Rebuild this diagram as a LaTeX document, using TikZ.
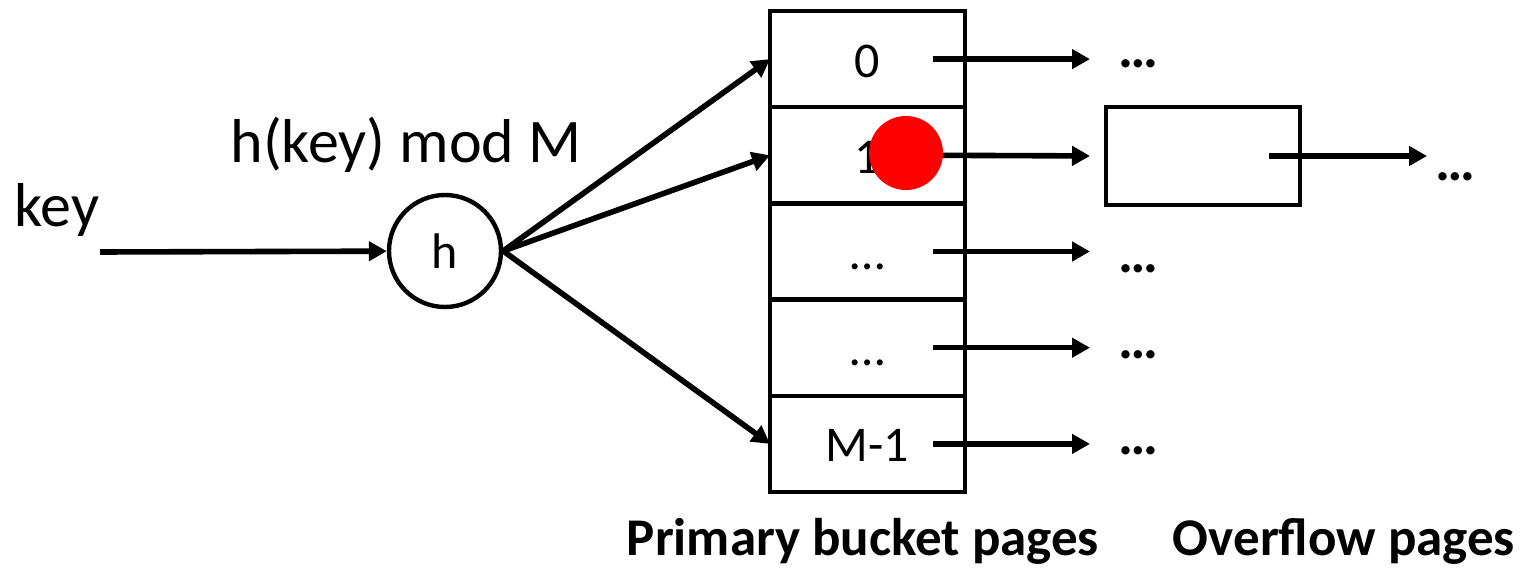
\documentclass[tikz,border=0pt]{standalone}
\usepackage{fontspec}
\setmainfont{Carlito}
\usetikzlibrary{positioning,arrows.meta}

\tikzset{
  cell/.style={draw, line width=2.2pt, minimum width=97.5pt, minimum height=48.1pt,
    inner sep=0pt, outer sep=0pt, text height=18pt, text depth=0pt,
    font=\fontsize{25}{30}\selectfont},
  arr/.style={line width=2.8pt, -{Triangle[length=9pt,width=9.5pt]}},
  lbl/.style={inner sep=0pt, font=\fontsize{31}{37}\selectfont},
  ellip/.style={anchor=base west, inner sep=0pt, font=\fontsize{28}{33}\selectfont\bfseries},
  caption/.style={anchor=base, inner sep=0pt, font=\fontsize{26.5}{31}\selectfont\bfseries},
}

\begin{document}
\begin{tikzpicture}[x=0.5pt, y=-0.5pt]
            \useasboundingbox (0,0) rectangle (1521,577);

            % Nodes
            \node[lbl, anchor=base west] (key) at (14,227) {key};
            \coordinate (in) at (100,252);
            \node[circle, draw, line width=2.2pt, minimum size=56pt, inner sep=0pt,
              font=\fontsize{25}{30}\selectfont] (h) at (445,251) {h};
            \node[lbl, anchor=base] (fn) at (406,163) {h(key) mod M};

            \node[cell] (b0) at (867.5,59.1) {0};
            \node[cell, below=0pt of b0] (b1) {1};
            \node[cell, below=0pt of b1] (b2) {\dots};
            \node[cell, below=0pt of b2] (b3) {\dots};
            \node[cell, below=0pt of b3] (b4) {M-1};

            \node[draw, line width=2.2pt, minimum width=97pt, minimum height=49pt,
              inner sep=0pt, outer sep=0pt] (ov) at (1203,156) {};

            \node[ellip] (d0) at (1118,68) {\dots};
            \node[ellip] (d2) at (1118,273) {\dots};
            \node[ellip] (d3) at (1118,358) {\dots};
            \node[ellip] (d4) at (1118,454) {\dots};
            \node[ellip] (d5) at (1435,181) {\dots};

            \node[caption] (prim) at (863,555) {Primary bucket pages};
            \node[caption] (over) at (1344,555) {Overflow pages};

            % Arrows
            \draw[arr] (in) -- (h);
            \draw[arr] (h.east) -- (b0.west);
            \draw[arr] (h.east) -- (b1.west);
            \draw[arr] (h.east) -- (b4.west);
            \draw[arr] ([xshift=-16pt]b0.east) -- ([xshift=62.5pt]b0.east);
            \draw[arr, shorten >=8pt] ([xshift=-16pt]b1.east) -- (ov.west);
            \draw[arr] ([xshift=-16pt]b2.east) -- ([xshift=62.5pt]b2.east);
            \draw[arr] ([xshift=-16pt]b3.east) -- ([xshift=62.5pt]b3.east);
            \draw[arr] ([xshift=-16pt]b4.east) -- ([xshift=62.5pt]b4.east);
            \draw[arr] ([xshift=-15.5pt]ov.east) -- ([xshift=63.5pt]ov.east);

            % red marker on top
            \node[circle, fill=red, minimum size=37pt, inner sep=0pt] (pin) at (906,153) {};
        \end{tikzpicture}
\end{document}
